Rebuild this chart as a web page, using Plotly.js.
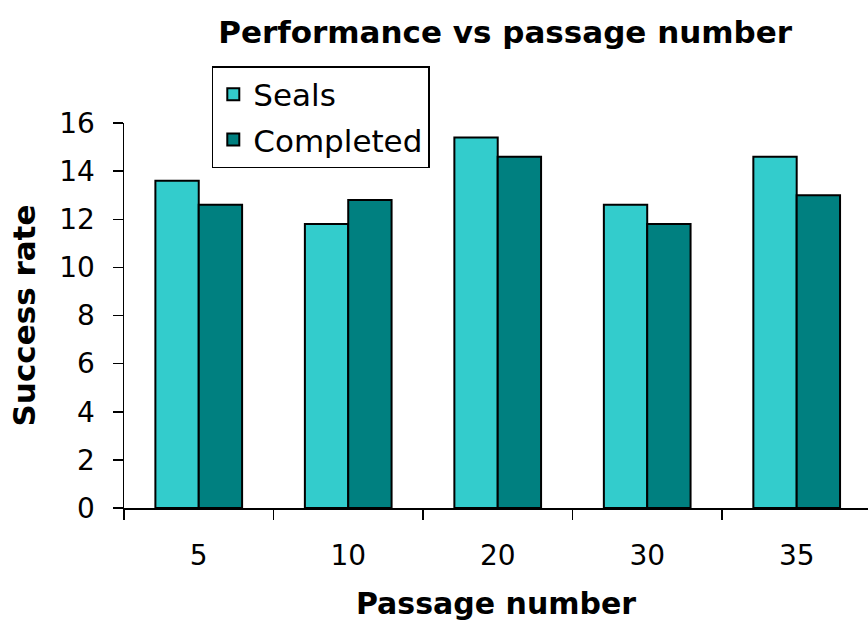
<!DOCTYPE html>
<html>
<head>
<meta charset="utf-8">
<script src="https://cdn.plot.ly/plotly-3.0.1.min.js"></script>
<style>html,body{margin:0;padding:0;background:#fff;}#chart{width:868px;height:621px;}</style>
</head>
<body>
<div id="chart"></div>
<script>
var categories = ["5", "10", "20", "30", "35"];
var seals = [13.6, 11.8, 15.4, 12.6, 14.6];
var completed = [12.6, 12.8, 14.6, 11.8, 13.0];
var yTicks = [0, 2, 4, 6, 8, 10, 12, 14, 16];

var font = "DejaVu Sans, Verdana, sans-serif";

var data = [
  {type: "bar", name: "Seals", x: categories, y: seals, legendgroup: "a",
   marker: {color: "#33CCCC", line: {color: "#000", width: 2}}},
  {type: "bar", name: "Completed", x: categories, y: completed, legendgroup: "b",
   marker: {color: "#008080", line: {color: "#000", width: 2}}}
];

var layout = {
  width: 868, height: 621,
  margin: {l: 124, r: 0, t: 123, b: 113},
  paper_bgcolor: "#fff", plot_bgcolor: "#fff",
  font: {family: font, color: "#000", size: 28},
  title: {text: "<b>Performance vs passage number</b>", x: 0.582, xref: "container", y: 0.948, yref: "container",
          xanchor: "center", yanchor: "middle", font: {size: 31, family: font}},
  barmode: "group", bargap: 0.42, bargroupgap: 0,
  showlegend: true,
  legend: {x: 0.118, y: 1.148, xanchor: "left", yanchor: "top", bordercolor: "#000", borderwidth: 1.5,
           bgcolor: "#fff", font: {size: 31, family: font}, traceorder: "grouped", tracegroupgap: 2},
  xaxis: {type: "category", range: [-0.5, 4.477], showline: true, linecolor: "#000", linewidth: 1.5,
          ticks: "outside", tickson: "boundaries", ticklen: 10, tickwidth: 1.5, tickcolor: "#000",
          showgrid: false, zeroline: false, ticklabelstandoff: 22,
          tickfont: {size: 28, family: font},
          title: {text: "<b>Passage number</b>", font: {size: 30, family: font}, standoff: 24}},
  yaxis: {range: [0, 16], tickvals: yTicks, showline: true, linecolor: "#000", linewidth: 1.5,
          ticks: "outside", ticklen: 10, tickwidth: 1.5, tickcolor: "#000", showgrid: false, zeroline: false,
          tickfont: {size: 28, family: font}, ticklabelstandoff: 12,
          title: {text: "<b>Success rate</b>", font: {size: 31, family: font}, standoff: 14}}
};

Plotly.newPlot("chart", data, layout, {displayModeBar: false, staticPlot: true});
</script>
</body>
</html>
